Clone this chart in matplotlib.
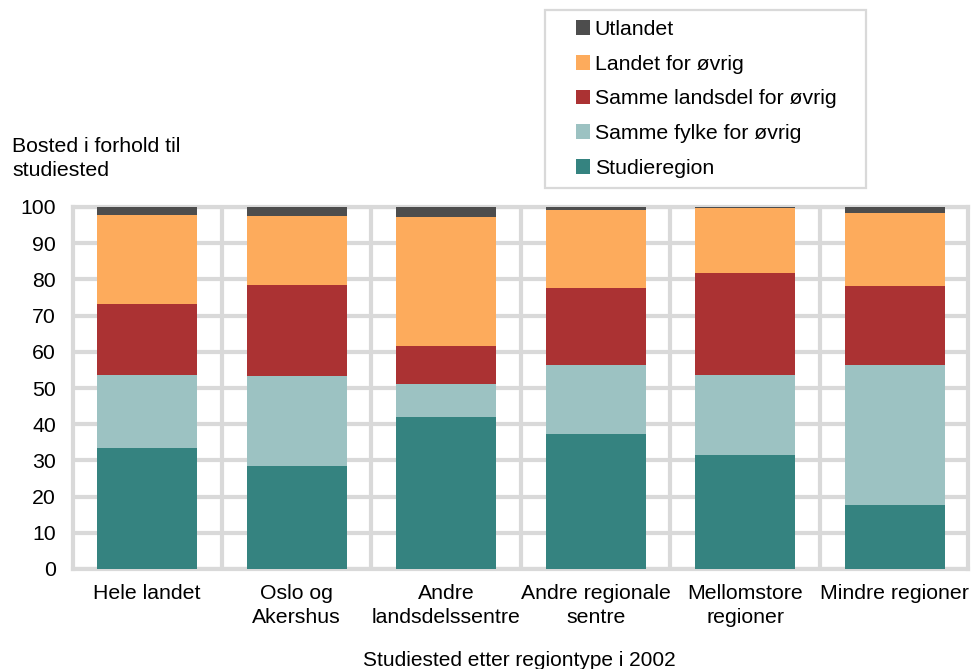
import matplotlib
matplotlib.use("Agg")
import matplotlib.pyplot as plt
from matplotlib.patches import Rectangle
import numpy as np

plt.rcParams['font.family'] = ['Liberation Sans', 'DejaVu Sans']
plt.rcParams['font.size'] = 15.3

# data
kategorier = ["Hele landet", "Oslo og\nAkershus", "Andre\nlandsdelssentre",
              "Andre regionale\nsentre", "Mellomstore\nregioner", "Mindre regioner"]
serier = ["Studieregion", "Samme fylke for øvrig", "Samme landsdel for øvrig",
          "Landet for øvrig", "Utlandet"]
studieregion = [33.5, 28.4, 41.9, 37.3, 31.4, 17.6]
samme_fylke = [20.0, 25.0, 9.2, 19.0, 22.1, 38.7]
samme_landsdel = [19.6, 25.1, 10.6, 21.3, 28.2, 21.9]
landet = [24.8, 19.0, 35.4, 21.7, 17.9, 20.2]
utlandet = [2.1, 2.5, 2.9, 0.7, 0.4, 1.6]
farger = ["#358380", "#9cc2c2", "#ab3233", "#fdab5c", "#4d4d4d"]

verdier = [studieregion, samme_fylke, samme_landsdel, landet, utlandet]

W, H = 972, 669
fig = plt.figure(figsize=(W / 100, H / 100), dpi=100)
ax = fig.add_axes([72.5 / W, 1 - 569 / H, 895.5 / W, 362 / H])

x = np.arange(len(kategorier))
bunn = np.zeros(len(kategorier))
handles = []
for navn, vals, farge in zip(serier, verdier, farger):
    b = ax.bar(x, vals, width=0.67, bottom=bunn, color=farge, label=navn, zorder=3)
    handles.append(b)
    bunn += np.array(vals)

grid_col = "#d9d9d9"
ax.set_xlim(-0.5, 5.49)
ax.set_ylim(0, 100)
ax.set_yticks(range(0, 101, 10))
ax.set_xticks(x)
ax.set_xticklabels(kategorier, linespacing=1.3)
ax.set_xticks(x[:-1] + 0.5, minor=True)
ax.grid(True, which='major', axis='y', color=grid_col, lw=3, zorder=0)
ax.grid(True, which='minor', axis='x', color=grid_col, lw=3, zorder=0)
ax.grid(False, which='major', axis='x')
for s in ax.spines.values():
    s.set_color(grid_col)
    s.set_linewidth(3)
ax.tick_params(axis='both', which='both', length=0)
ax.tick_params(axis='y', pad=12)
ax.tick_params(axis='x', pad=11)

fig.text(12 / W, 1 - 137 / H, "Bosted i forhold til\nstudiested",
         ha='left', va='top', linespacing=1.3)
fig.text(519 / W, 1 - 651 / H, "Studiested etter regiontype i 2002",
         ha='center', va='top', fontsize=15.0)

# legend box
fig.patches.append(Rectangle((545 / W, 1 - 188 / H), 321 / W, 178 / H,
                             transform=fig.transFigure, fill=False,
                             edgecolor=grid_col, lw=1.6))
leg = fig.legend(handles[::-1], serier[::-1], loc='upper left',
                 bbox_to_anchor=(576 / W, 1 - 20 / H),
                 frameon=False, handlelength=0.68, handleheight=0.68,
                 handletextpad=0.2, labelspacing=0.74, borderpad=0,
                 borderaxespad=0)

fig.savefig("out.png", dpi=100)
